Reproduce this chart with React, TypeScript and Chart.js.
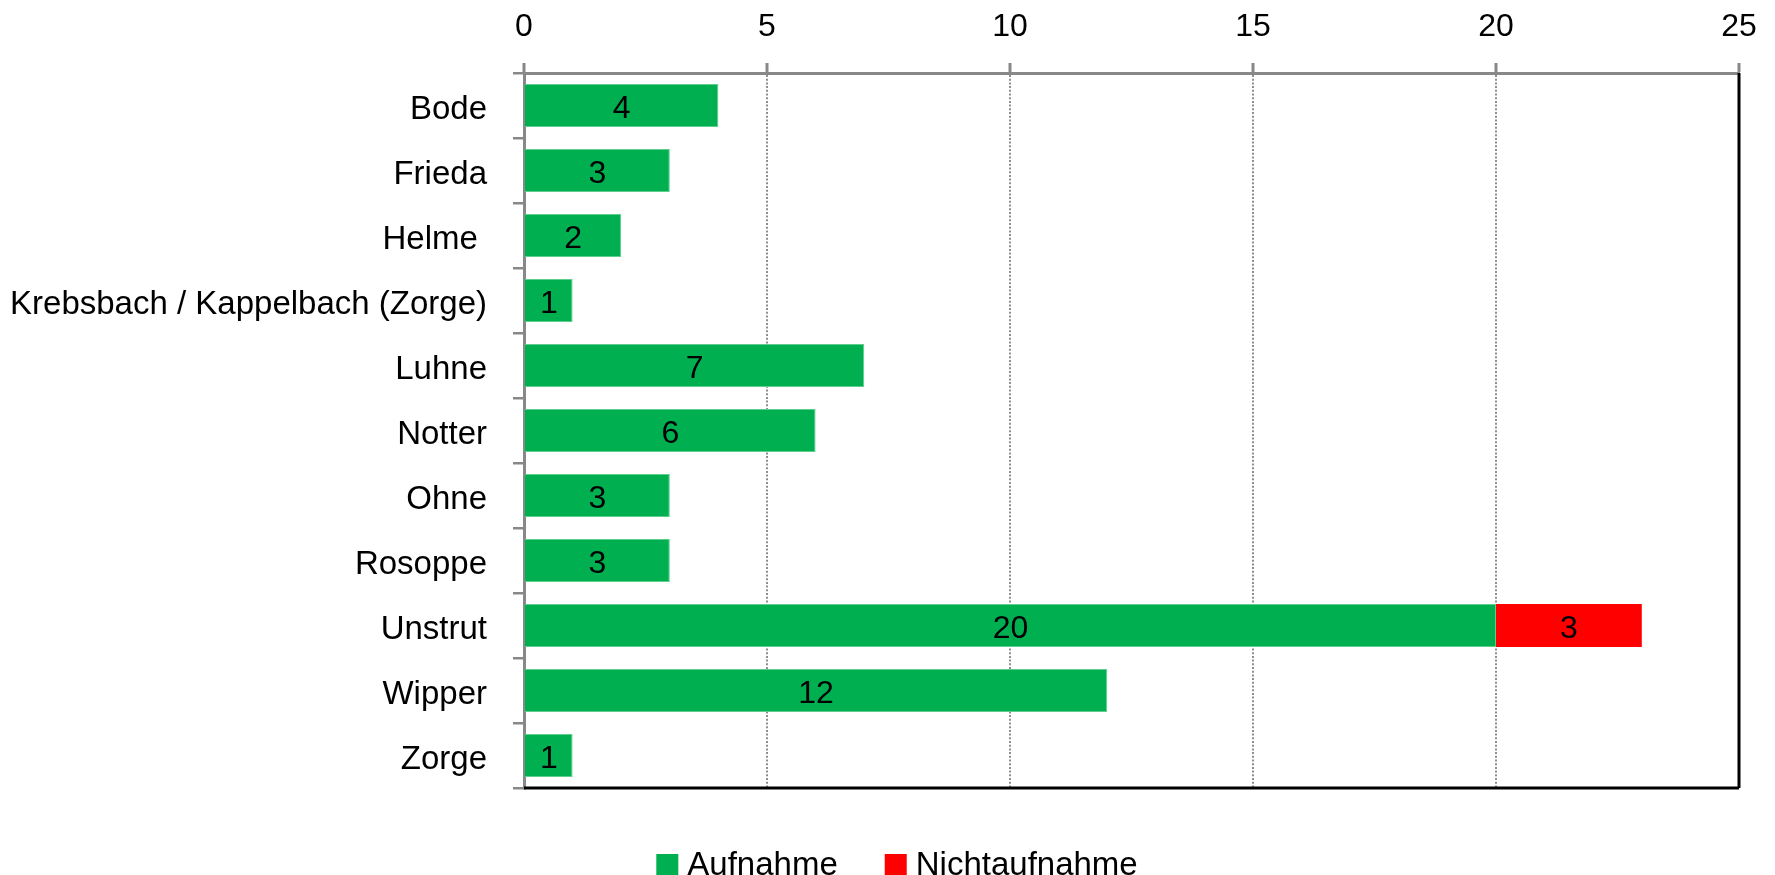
import React, { useEffect, useRef } from 'react';
import { Chart, registerables } from 'chart.js';

Chart.register(...registerables);

const categories = [
  'Bode',
  'Frieda',
  'Helme ',
  'Krebsbach / Kappelbach (Zorge)',
  'Luhne',
  'Notter',
  'Ohne',
  'Rosoppe',
  'Unstrut',
  'Wipper',
  'Zorge',
];
const aufnahme = [4, 3, 2, 1, 7, 6, 3, 3, 20, 12, 1];
const nichtaufnahme = [null, null, null, null, null, null, null, null, 3, null, null];
const seriesNames = ['Aufnahme', 'Nichtaufnahme'];
const seriesColors = ['#00B050', '#FF0000'];
const seriesEdges = ['#5ccf8c', '#FF0000'];
const xMin = 0;
const xMax = 25;
const xStep = 5;

const FONT = "'Liberation Sans', Arial, sans-serif";

const valueLabelPlugin = {
  id: 'valueLabels',
  afterDatasetsDraw(chart: any) {
    const ctx = chart.ctx;
    ctx.save();
    ctx.font = `32px ${FONT}`;
    ctx.fillStyle = '#000';
    ctx.textAlign = 'center';
    ctx.textBaseline = 'middle';
    chart.data.datasets.forEach((ds: any, di: number) => {
      const meta = chart.getDatasetMeta(di);
      meta.data.forEach((el: any, i: number) => {
        const v = ds.data[i];
        if (v === null || v === undefined) return;
        const p = el.getCenterPoint();
        ctx.fillText(String(v), p.x, p.y + 4);
      });
    });
    ctx.restore();
  },
};

const frameAndLegendPlugin = {
  id: 'frameAndLegend',
  afterDraw(chart: any) {
    const ctx = chart.ctx;
    const a = chart.chartArea;
    ctx.save();
    ctx.strokeStyle = '#000';
    ctx.lineWidth = 3;
    ctx.beginPath();
    ctx.moveTo(a.left, a.bottom);
    ctx.lineTo(a.right, a.bottom);
    ctx.moveTo(a.right, a.top);
    ctx.lineTo(a.right, a.bottom);
    ctx.stroke();

    // legend
    ctx.font = `33px ${FONT}`;
    ctx.textBaseline = 'middle';
    ctx.textAlign = 'left';
    const box = 22;
    const gapText = 9;
    const gapItem = 47;
    const items = chart.data.datasets.map((ds: any) => ({
      text: ds.label,
      color: ds.backgroundColor,
      w: ctx.measureText(ds.label).width,
    }));
    const total =
      items.reduce((s: number, it: any) => s + box + gapText + it.w, 0) + gapItem * (items.length - 1);
    const centerX = 897;
    const cy = 865;
    let x = centerX - total / 2;
    items.forEach((it: any) => {
      ctx.fillStyle = it.color;
      ctx.fillRect(x, cy - box / 2, box, box);
      ctx.fillStyle = '#000';
      ctx.fillText(it.text, x + box + gapText, cy + 1);
      x += box + gapText + it.w + gapItem;
    });
    ctx.restore();
  },
};

export default function App() {
  const ref = useRef<HTMLCanvasElement>(null);
  useEffect(() => {
    const canvas = ref.current;
    if (!canvas) return;
    const chart = new Chart(canvas, {
      type: 'bar',
      data: {
        labels: categories,
        datasets: [
          {
            label: seriesNames[0],
            data: aufnahme,
            backgroundColor: seriesColors[0],
            borderColor: seriesEdges[0],
            borderWidth: 1,
            barPercentage: 0.66,
            categoryPercentage: 1.0,
          },
          {
            label: seriesNames[1],
            data: nichtaufnahme as any,
            backgroundColor: seriesColors[1],
            borderColor: seriesEdges[1],
            borderWidth: 0,
            barPercentage: 0.66,
            categoryPercentage: 1.0,
          },
        ],
      },
      options: {
        indexAxis: 'y',
        responsive: false,
        animation: false,
        devicePixelRatio: 1,
        layout: { padding: { left: 0, right: 36, top: 0, bottom: 87 } },
        plugins: {
          legend: { display: false },
          tooltip: { enabled: false },
        },
        scales: {
          x: {
            position: 'top',
            stacked: true,
            min: xMin,
            max: xMax,
            ticks: {
              stepSize: xStep,
              color: '#000',
              font: { family: FONT, size: 32 },
              padding: 17,
            },
            grid: {
              color: '#8f8f8f',
              lineWidth: 2,
              tickLength: 10,
              tickColor: '#888888',
              tickWidth: 3,
              tickBorderDash: [],
            },
            border: { color: '#888888', width: 3, dash: [2, 1.7] },
            afterFit: (scale: any) => {
              scale.height = 73;
            },
          },
          y: {
            stacked: true,
            ticks: {
              color: '#000',
              font: { family: FONT, size: 33 },
              padding: 26,
              labelOffset: 4,
            },
            grid: {
              drawOnChartArea: false,
              drawTicks: true,
              tickLength: 11,
              color: '#888888',
              lineWidth: 2.5,
            },
            border: { color: '#888888', width: 3 },
            afterFit: (scale: any) => {
              scale.width = 524;
            },
          },
        },
      },
      plugins: [valueLabelPlugin, frameAndLegendPlugin],
    });
    return () => chart.destroy();
  }, []);
  return (
    <div
      style={{
        position: 'fixed',
        left: 0,
        top: 0,
        width: 1775,
        height: 875,
        overflow: 'hidden',
        background: '#fff',
      }}
    >
      <canvas ref={ref} width={1775} height={875} style={{ display: 'block' }} />
    </div>
  );
}
